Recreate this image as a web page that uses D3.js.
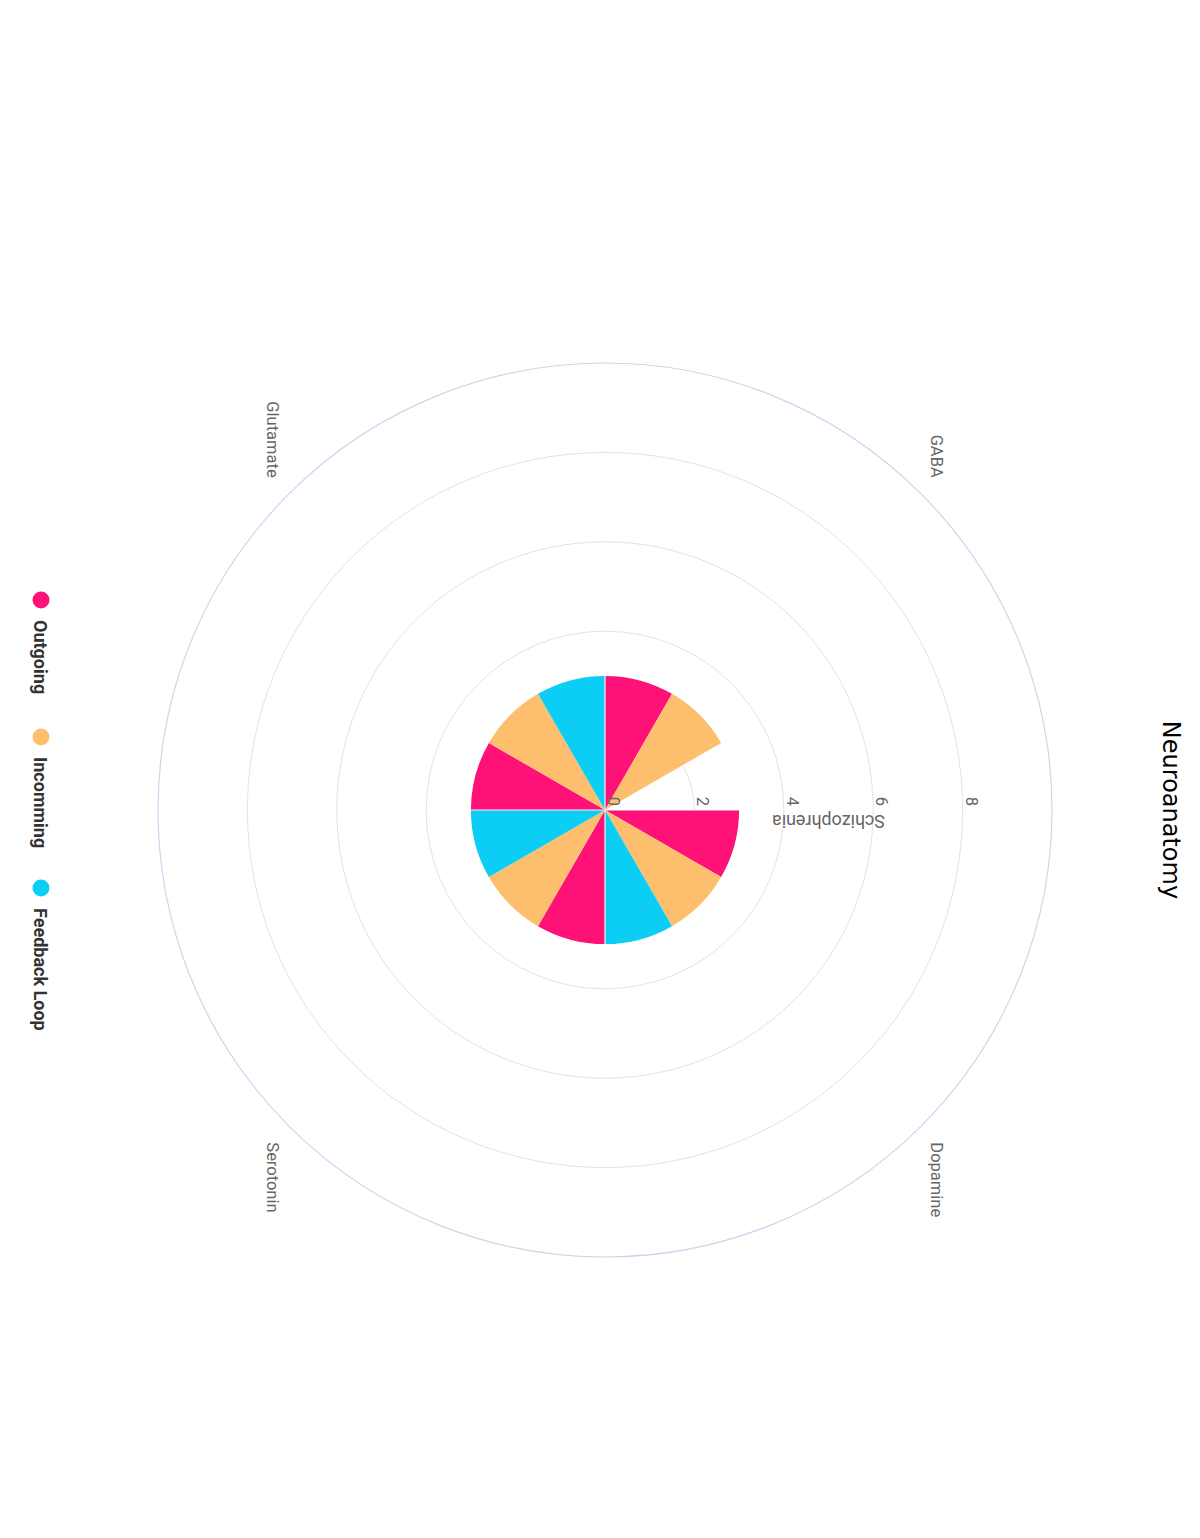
<!DOCTYPE html>
<html>
<head>
<meta charset="utf-8">
<script src="https://cdn.jsdelivr.net/npm/d3@7"></script>
<style>
  html, body { margin: 0; padding: 0; background: #ffffff; }
  svg { display: block; }
</style>
</head>
<body>
<script>
// ---- data ----
const categories = ["Dopamine", "Serotonin", "Glutamate", "GABA"];
const seriesNames = ["Outgoing", "Incomming", "Feedback Loop"];
const outgoing = [3, 3, 3, 3];
const incomming = [3, 3, 3, 3];
const feedbackLoop = [3, 3, 3, 0];
const radialTicks = [0, 2, 4, 6, 8];
const gridValues = [2, 4, 6, 8];
const radialMax = 10;
const seriesColors = ["#ff1277", "#fdbe6d", "#0ccdf4"];
const chartTitle = "Neuroanatomy";
const radialTitle = "Schizophrenia";

const seriesValues = [outgoing, incomming, feedbackLoop];
const bars = [];
seriesNames.forEach((s, si) => {
  categories.forEach((c, ci) => {
    bars.push({ series: s, cat: c, value: seriesValues[si][ci], color: seriesColors[si] });
  });
});

// ---- layout (chart is drawn in a landscape frame, then turned 90deg clockwise) ----
const W = 1200, H = 1538;
const cx = 810, cy = 595, R = 447;

const svg = d3.select("body").append("svg").attr("width", W).attr("height", H);
svg.append("rect").attr("width", W).attr("height", H).attr("fill", "#ffffff");

const frame = svg.append("g").attr("transform", `translate(${W},0) rotate(90)`);

const r = d3.scaleLinear().domain([0, radialMax]).range([0, R]);
const xCat = d3.scaleBand().domain(categories).range([0, 2 * Math.PI]);
const xSer = d3.scaleBand().domain(seriesNames).range([0, xCat.bandwidth()]);

const chart = frame.append("g").attr("transform", `translate(${cx},${cy})`);

// grid circles
chart.selectAll("circle.grid").data(gridValues).join("circle")
  .attr("class", "grid")
  .attr("r", d => r(d))
  .attr("fill", "none")
  .attr("stroke", "#e3e3e6")
  .attr("stroke-width", 1);

chart.append("circle")
  .attr("r", r(radialMax))
  .attr("fill", "none")
  .attr("stroke", "#ccd6eb")
  .attr("stroke-width", 1.2);

// bars
const arc = d3.arc()
  .innerRadius(0)
  .outerRadius(d => r(d.value))
  .startAngle(d => xCat(d.cat) + xSer(d.series))
  .endAngle(d => xCat(d.cat) + xSer(d.series) + xSer.bandwidth());

const defs = svg.append("defs");
const clip = defs.append("clipPath").attr("id", "barsClip");
clip.selectAll("path").data(bars.filter(d => d.value > 0)).join("path").attr("d", arc);

chart.selectAll("path.bar").data(bars.filter(d => d.value > 0)).join("path")
  .attr("class", "bar")
  .attr("d", arc)
  .attr("fill", d => d.color);

// category boundary seams (visible only across the bars)
chart.append("g").attr("clip-path", "url(#barsClip)")
  .selectAll("line").data(categories).join("line")
  .attr("x1", 0).attr("y1", 0)
  .attr("x2", d => R * Math.sin(xCat(d)))
  .attr("y2", d => -R * Math.cos(xCat(d)))
  .attr("stroke", "#f2f4f9")
  .attr("stroke-width", 1.2);

// radial tick labels
chart.selectAll("text.tick").data(radialTicks).join("text")
  .attr("class", "tick")
  .attr("x", -4)
  .attr("y", d => -r(d) - 3)
  .attr("text-anchor", "end")
  .attr("font-family", "Roboto, sans-serif")
  .attr("font-size", 16.5)
  .attr("fill", "#666666")
  .text(d => d);

// radial axis title
chart.append("text")
  .attr("transform", `translate(5,${-R / 2}) rotate(90)`)
  .attr("text-anchor", "middle")
  .attr("font-family", "Roboto, sans-serif")
  .attr("font-size", 18)
  .attr("fill", "#666666")
  .text(radialTitle);

// category labels
const labelR = R + 23;
chart.selectAll("text.cat").data(categories).join("text")
  .attr("class", "cat")
  .each(function (d) {
    const a = xCat(d) + xCat.bandwidth() / 2;
    const x = labelR * Math.sin(a), y = -labelR * Math.cos(a);
    d3.select(this)
      .attr("x", x)
      .attr("y", y + 6)
      .attr("text-anchor", x >= 0 ? "start" : "end");
  })
  .attr("font-family", "Roboto, sans-serif")
  .attr("font-size", 16.5)
  .attr("fill", "#666666")
  .text(d => d);

// title
frame.append("text")
  .attr("x", cx)
  .attr("y", 37)
  .attr("text-anchor", "middle")
  .attr("font-family", "'DejaVu Sans', Verdana, sans-serif")
  .attr("font-size", 24)
  .attr("fill", "#000000")
  .text(chartTitle);

// legend
const legendX = [600, 737, 888];
const legend = frame.append("g").attr("transform", "translate(0,1159)");
const items = legend.selectAll("g").data(seriesNames).join("g")
  .attr("transform", (d, i) => `translate(${legendX[i]},0)`);
items.append("circle").attr("r", 8.5).attr("fill", (d, i) => seriesColors[i]);
items.append("text")
  .attr("x", 20)
  .attr("y", 7)
  .attr("font-family", "Roboto, sans-serif")
  .attr("font-weight", "bold")
  .attr("font-size", 18)
  .attr("fill", "#333333")
  .text(d => d);
</script>
</body>
</html>
